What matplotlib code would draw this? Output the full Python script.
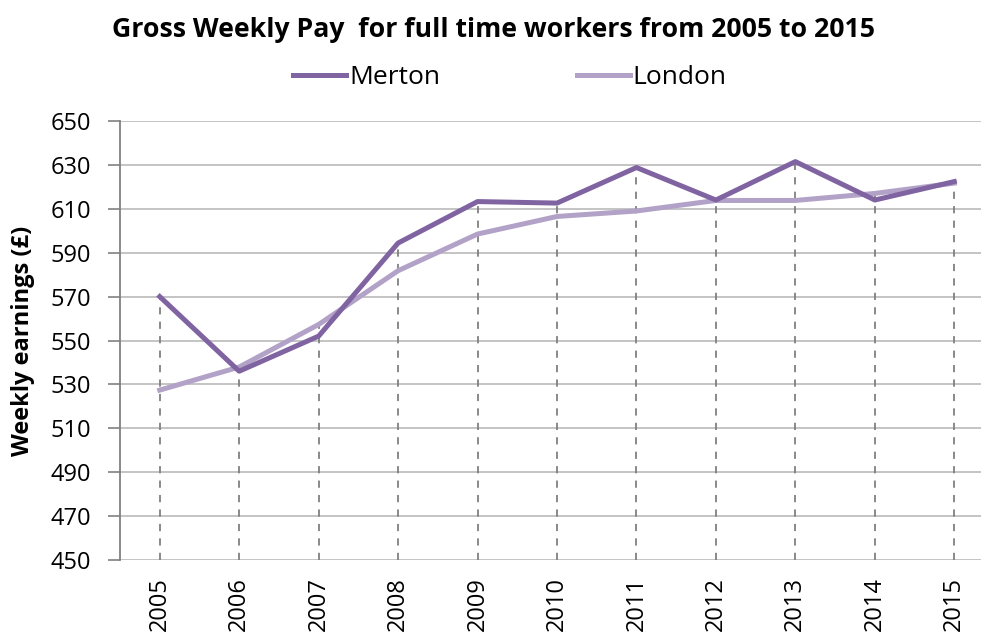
import numpy as np
import matplotlib
matplotlib.use("Agg")
import matplotlib.pyplot as plt

# datos
years = ["2005", "2006", "2007", "2008", "2009", "2010",
         "2011", "2012", "2013", "2014", "2015"]
merton = [570, 536, 552, 594.4, 613.3, 612.6, 628.8, 614, 631.5, 614, 622.4]
london = [527.4, 537.9, 557.3, 581.8, 598.5, 606.5, 609, 613.8, 613.8, 617, 621.7]
yticks = [450, 470, 490, 510, 530, 550, 570, 590, 610, 630, 650]

plt.rcParams['font.family'] = ['Open Sans', 'DejaVu Sans']

fig = plt.figure(figsize=(9.81, 6.36), dpi=100)
ax = fig.add_axes([120 / 981, 76 / 636, 874 / 981, 439 / 636])

x = np.arange(len(years))
tops = np.maximum(merton, london)

# lineas verticales discontinuas hasta el eje
ax.vlines(x, 450, tops, colors="#808080", linestyles=(0, (4, 4)), linewidth=1.3, zorder=2)

ax.plot(x, merton, color="#8064A2", linewidth=3.6, label="Merton", zorder=4, solid_joinstyle="round")
ax.plot(x, london, color="#B3A2C7", linewidth=3.6, label="London", zorder=3, solid_joinstyle="round")

ax.set_xlim(-0.5, len(years) - 0.5)
ax.set_ylim(450, 650)
ax.set_yticks(yticks)
ax.set_xticks(x)
ax.set_xticklabels(years, rotation=90, fontsize=17)
ax.tick_params(axis="y", labelsize=17, length=9, color="#808080", width=1.2, pad=12)
ax.tick_params(axis="x", length=0, pad=12)

ax.grid(axis="y", color="#BFBFBF", linewidth=1.3, zorder=0)
ax.set_axisbelow(True)
for s in ["top", "right", "bottom"]:
    ax.spines[s].set_visible(False)
ax.spines["left"].set_color("#808080")
ax.spines["left"].set_linewidth(1.3)

ax.set_ylabel("Weekly earnings (£)", fontsize=17, fontweight="bold")
ax.yaxis.set_label_coords(-0.097, 0.5)

fig.text(493 / 981, 1 - 30 / 636, "Gross Weekly Pay  for full time workers from 2005 to 2015",
         ha="center", va="center", fontsize=19.2, fontweight="bold")

fig.legend(loc="center", bbox_to_anchor=(510 / 981, 1 - 78 / 636), ncol=2, frameon=False,
           fontsize=19, handlelength=2.0, handletextpad=0.1, columnspacing=5.2)

fig.savefig("out.png", dpi=100)
